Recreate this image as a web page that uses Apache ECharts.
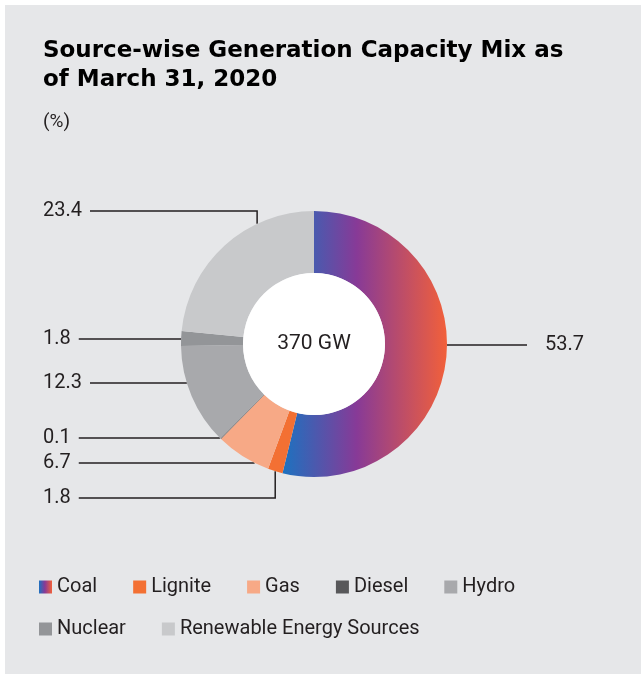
<!DOCTYPE html>
<html>
<head>
<meta charset="utf-8">
<title>Source-wise Generation Capacity Mix</title>
<script src="https://cdn.jsdelivr.net/npm/echarts@6/dist/echarts.min.js"></script>
<style>
  html, body { margin: 0; padding: 0; background: #fff; }
  #main { width: 641px; height: 674px; }
</style>
</head>
<body>
<div id="main"></div>
<script>
// data, share of installed capacity (%)
const sources = ["Coal", "Lignite", "Gas", "Diesel", "Hydro", "Nuclear", "Renewable Energy Sources"];
const shares = [53.7, 1.8, 6.7, 0.1, 12.3, 1.8, 23.4];
const totalLabel = "370 GW";
const legendRow1 = ["Coal", "Lignite", "Gas", "Diesel", "Hydro"];
const legendRow2 = ["Nuclear", "Renewable Energy Sources"];

// styling / layout
const colors = ["coal", "#f37033", "#f7a986", "#58585a", "#a8a9ac", "#939598", "#c8c9cb"];
const coalGradient = new echarts.graphic.LinearGradient(0, 0, 1, 0, [
  { offset: 0, color: "#1c72c0" },
  { offset: 0.45, color: "#873a97" },
  { offset: 1, color: "#f2603a" },
]);
const CX = 314, CY = 344, R_OUT = 133, R_IN = 71;
const labelRowY = [345, 498, 463, 438, 383, 339, 211]; // label rows, px
const LEFT_X = 43, RIGHT_X = 545;
const FONT = "Roboto, 'Noto Sans', sans-serif";
const INK = "#231f20";

const total = shares.reduce((a, b) => a + b, 0);
const startDeg = [];
let acc = 0;
shares.forEach((v) => { startDeg.push(acc / total * 360); acc += v; });

// angle clockwise from 12 o'clock of a point
function clockAngle(x, y) {
  let a = Math.atan2(x - CX, -(y - CY)) * 180 / Math.PI;
  return a < 0 ? a + 360 : a;
}
function arcPoint(deg) {
  const r = deg * Math.PI / 180;
  return [CX + R_OUT * Math.sin(r), CY - R_OUT * Math.cos(r)];
}

const legendBase = {
  left: 39, padding: 0,
  itemWidth: 13, itemHeight: 13, itemGap: 36, icon: "rect",
  textStyle: { fontFamily: FONT, fontSize: 20, color: INK, lineHeight: 20 },
  selectedMode: false,
};

const chart = echarts.init(document.getElementById("main"));
chart.setOption({
  backgroundColor: "#fff",
  animation: false,
  graphic: [
    { type: "rect", left: 5, top: 5, z: -10, shape: { width: 636, height: 669 }, style: { fill: "#e6e7e9" } },
    {
      type: "text", left: 43, top: 37,
      style: {
        text: "Source-wise Generation Capacity Mix as\nof March 31, 2020",
        font: "bold 23px 'DejaVu Sans', sans-serif", fill: "#000", lineHeight: 29,
      },
    },
    { type: "text", left: 43, top: 113, style: { text: "(%)", font: "19px " + FONT, fill: INK } },
  ],
  legend: [
    Object.assign({ data: legendRow1, top: 577 }, legendBase),
    Object.assign({ data: legendRow2, top: 619 }, legendBase),
  ],
  series: [
    {
      type: "pie",
      center: [CX, CY],
      radius: [R_IN, R_OUT],
      startAngle: 90,
      clockwise: true,
      silent: true,
      data: sources.map((name, i) => ({
        name: name,
        value: shares[i],
        itemStyle: { color: i === 0 ? coalGradient : colors[i] },
      })),
      label: {
        show: true,
        position: "outside",
        formatter: (p) => p.value.toFixed(1),
        fontFamily: FONT, fontSize: 20, color: INK,
      },
      labelLine: { show: true, lineStyle: { color: INK, width: 1.5 } },
      labelLayout: function (p) {
        const i = p.dataIndex;
        const y = labelRowY[i];
        const s = startDeg[i], e = s + shares[i] / total * 360;
        const right = i === 0;
        const w = p.labelRect.width;
        const lineEnd = right ? RIGHT_X - 18 : LEFT_X + w + 8;
        const dy = y - CY;
        let edge = null;
        if (Math.abs(dy) < R_OUT - 3) {
          const dx = Math.sqrt(R_OUT * R_OUT - dy * dy);
          const ex = right ? CX + dx : CX - dx;
          const ang = clockAngle(ex, y);
          if (ang >= s - 1 && ang <= e + 1) edge = [ex, y];
        }
        // row misses the slice: drop a vertical leader onto its arc
        const a = arcPoint(s + (e - s) * (shares[i] > 10 ? 0.7 : 0.5));
        const pts = edge
          ? [edge, [(edge[0] + lineEnd) / 2, y], [lineEnd, y]]
          : [a, [a[0], y], [lineEnd, y]];
        return {
          x: right ? RIGHT_X : LEFT_X,
          y: y,
          align: "left",
          verticalAlign: "middle",
          labelLinePoints: pts,
        };
      },
    },
    {
      type: "pie",
      center: [CX, CY],
      radius: [0, R_IN],
      silent: true,
      data: [{ name: "total", value: 1, itemStyle: { color: "#fff" } }],
      label: {
        show: true, position: "center", formatter: totalLabel,
        fontFamily: FONT, fontSize: 21, color: INK,
      },
      labelLine: { show: false },
    },
  ],
});
</script>
</body>
</html>
